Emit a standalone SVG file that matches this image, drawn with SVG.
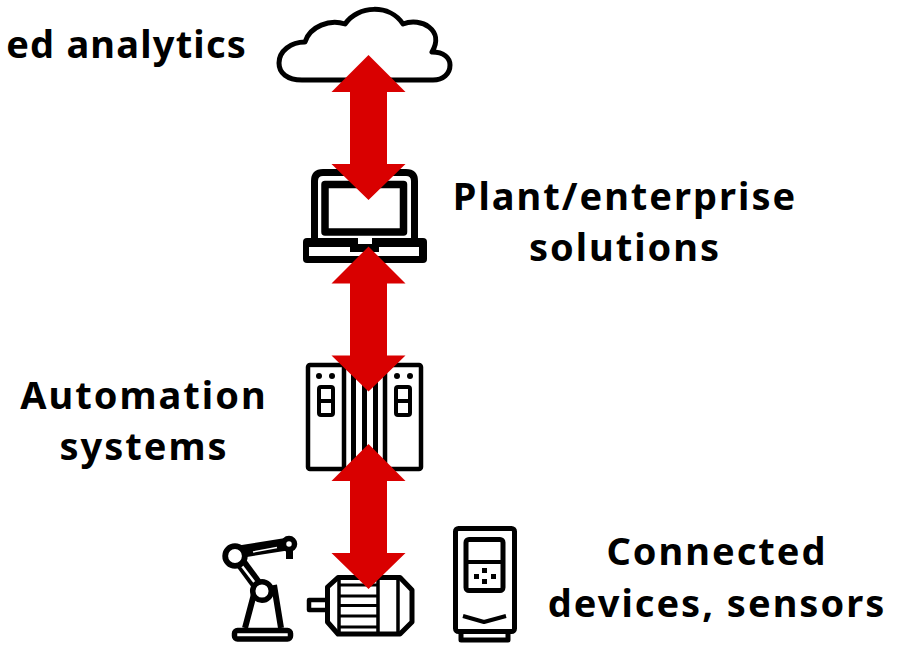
<svg xmlns="http://www.w3.org/2000/svg" width="914" height="645" viewBox="0 0 914 645">
<style>
.t{font-family:"Noto Sans","Open Sans","Liberation Sans",sans-serif;font-weight:700;font-size:38px;letter-spacing:2px;fill:#000;text-anchor:middle}
.k{fill:none;stroke:#000;stroke-linejoin:round}
.w{fill:#fff;stroke:#000;stroke-linejoin:round}
.f{fill:#000}
.a{fill:#d90000}
</style>
<defs>
<path id="arrow" d="M0 0L37 37H18.500V109H37L0 145L-37 109H-18.500V37H-37Z"/>
</defs>
<rect width="914" height="645" fill="#fff"/>
<g id="cloud">
<path class="w" stroke-width="5" d="M302 80C287 80 279 73 279 63C279 51 291 42 305 42C310 26 330 19 345 24C358 5 390 4 403 24C421 17 445 30 432 52C444 52 450 58 450 65C450 74 443 80 433 80Z"/>
<text class="t" x="247" y="58" style="text-anchor:end;letter-spacing:1.200px">ed analytics</text>
</g>
<g id="laptop">
<path class="k" stroke-width="7" d="M314.500 238V181Q314.500 172.500 323 172.500H406Q414.500 172.500 414.500 181V238"/>
<rect class="k" x="325" y="184.500" width="78.500" height="47.500" stroke-width="7.500"/>
<rect class="f" x="303" y="238" width="124" height="25" rx="4"/>
<rect x="309" y="247" width="110" height="9" fill="#fff"/>
<rect x="358" y="238" width="14" height="6" fill="#fff"/>
<rect class="f" x="350" y="245" width="29" height="7"/>
<text class="t" x="625" y="210">Plant/enterprise</text>
<text class="t" x="625" y="261">solutions</text>
</g>
<g id="automation">
<rect class="w" x="308" y="365" width="36" height="104" rx="2" stroke-width="4.500"/>
<rect class="w" x="385" y="365" width="36" height="104" rx="2" stroke-width="4.500"/>
<path class="f" d="M344 363H385V365H344ZM344 468H385V470H344ZM351 363H356V470H351ZM362 363H367V470H362ZM373 363H378V470H373Z"/>
<circle class="f" cx="319" cy="376" r="3"/><circle class="f" cx="332" cy="376" r="3"/>
<circle class="f" cx="397" cy="376" r="3"/><circle class="f" cx="410" cy="376" r="3"/>
<rect class="w" x="319" y="387" width="14" height="28" rx="2" stroke-width="4"/>
<path class="k" stroke-width="4" d="M319 401H333"/>
<rect class="w" x="396" y="387" width="14" height="28" rx="2" stroke-width="4"/>
<path class="k" stroke-width="4" d="M396 401H410"/>
<text class="t" x="144" y="409">Automation</text>
<text class="t" x="144" y="460">systems</text>
</g>
<g id="robot">
<rect class="w" x="234.500" y="630.500" width="56" height="8.500" rx="3" stroke-width="5.500"/>
<path class="k" stroke-width="6" d="M245 628L254 594M281 628L274 585"/>
<path class="k" stroke-width="12" d="M236 556L261 590"/>
<path class="k" stroke-width="12.500" d="M238 552L288 544"/>
<path stroke="#fff" stroke-width="1.500" d="M253 552L277 547.500"/>
<path stroke="#fff" stroke-width="2.500" d="M242 566L255 583"/>
<circle class="w" cx="235" cy="556" r="9.800" stroke-width="5.800"/>
<circle class="w" cx="262" cy="591" r="9.300" stroke-width="5.500"/>
<circle class="w" cx="289" cy="544" r="5.500" stroke-width="5.500"/>
<rect class="f" x="286" y="548" width="7" height="11"/>
</g>
<g id="motor">
<path class="w" stroke-width="4.500" d="M309 600H328V610H309Z"/>
<path class="w" stroke-width="5" d="M338 577.500H400L412 590V622L400 634H338L327.500 622V587Z"/>
<path class="k" stroke-width="3.500" d="M339 577V634M378 577V634M398 577V634"/>
<path class="k" stroke-width="3" d="M339 585H378M339 596H378M339 605.500H378M339 616H378M339 627H378"/>
</g>
<g id="drive">
<rect class="w" x="455.500" y="528.500" width="59" height="103" rx="3" stroke-width="5"/>
<rect class="w" x="466" y="539.500" width="37" height="51" rx="3" stroke-width="5"/>
<path class="k" stroke-width="4" d="M466 562H503"/>
<path class="k" stroke-width="4" d="M463 616L484 622L506 616"/>
<path class="k" stroke-width="5" d="M461 632V640H508V632"/>
<rect class="f" x="482" y="568" width="5" height="5"/><rect class="f" x="482" y="579" width="5" height="5"/>
<rect class="f" x="474" y="574" width="5" height="5"/><rect class="f" x="491" y="574" width="5" height="5"/>
<text class="t" x="717" y="565">Connected</text>
<text class="t" x="717" y="617">devices, sensors</text>
</g>
<g id="connectors">
<use href="#arrow" class="a" x="368.500" y="55"/>
<use href="#arrow" class="a" x="368.500" y="246.500"/>
<use href="#arrow" class="a" x="368.500" y="444"/>
</g>
</svg>
